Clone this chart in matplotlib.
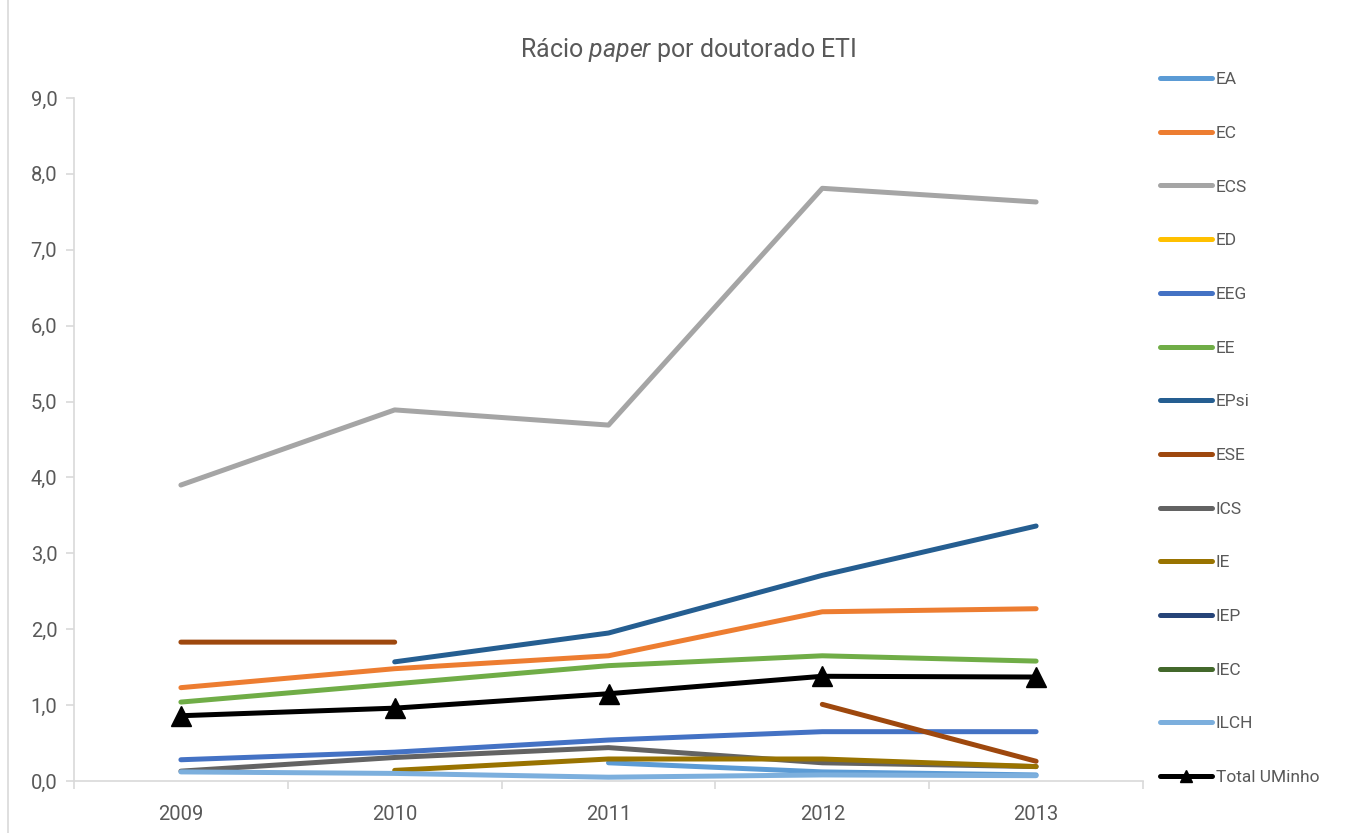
import numpy as np
import matplotlib
matplotlib.use('Agg')
import matplotlib.pyplot as plt
from matplotlib.lines import Line2D

plt.rcParams['font.family'] = ['Roboto', 'DejaVu Sans']
plt.rcParams['mathtext.fontset'] = 'custom'
plt.rcParams['mathtext.it'] = 'Roboto:italic'
plt.rcParams['mathtext.rm'] = 'Roboto'

years = ['2009', '2010', '2011', '2012', '2013']
nan = np.nan

EA = [nan, nan, 0.24, 0.12, 0.08]
EC = [1.23, 1.48, 1.65, 2.23, 2.27]
ECS = [3.90, 4.89, 4.69, 7.81, 7.63]
ED = [nan, nan, nan, nan, nan]
EEG = [0.28, 0.38, 0.54, 0.65, 0.65]
EE = [1.04, 1.28, 1.52, 1.65, 1.58]
EPsi = [nan, 1.57, 1.95, 2.71, 3.36]
ESE = [1.83, 1.83, nan, 1.01, 0.26]
ICS = [0.13, 0.31, 0.44, 0.24, 0.19]
IE = [nan, 0.14, 0.29, 0.29, 0.19]
IEP = [nan, nan, nan, nan, nan]
IEC = [nan, nan, nan, nan, nan]
ILCH = [0.12, 0.10, 0.05, 0.08, 0.07]
total = [0.86, 0.96, 1.15, 1.38, 1.37]

series = [
    ('EA', EA, '#5B9BD5'),
    ('EC', EC, '#ED7D31'),
    ('ECS', ECS, '#A5A5A5'),
    ('ED', ED, '#FFC000'),
    ('EEG', EEG, '#4472C4'),
    ('EE', EE, '#70AD47'),
    ('EPsi', EPsi, '#255E91'),
    ('ESE', ESE, '#9E480E'),
    ('ICS', ICS, '#636363'),
    ('IE', IE, '#997300'),
    ('IEP', IEP, '#264478'),
    ('IEC', IEC, '#43682B'),
    ('ILCH', ILCH, '#7CAFDD'),
]

text_col = '#595959'
axis_col = '#D9D9D9'

fig = plt.figure(figsize=(13.52, 8.33), dpi=100)
ax = fig.add_axes([74 / 1352, 1 - 781 / 833, (1143 - 74) / 1352, (781 - 98) / 833])

x = np.arange(len(years))
handles = []
for name, vals, col in series:
    ln, = ax.plot(x, vals, color=col, lw=3.6, solid_capstyle='round', label=name)
    handles.append(ln)
ax.plot(x, total, color='black', lw=3.6, marker='^', ms=14,
        solid_capstyle='round', zorder=5)
# smaller marker in the legend, like the original
handles.append(Line2D([], [], color='black', lw=3.6, marker='^', ms=8,
                      solid_capstyle='round', label='Total UMinho'))

ax.set_xlim(-0.5, len(years) - 0.5)
ax.set_ylim(0, 9)
ax.set_yticks(np.arange(0, 10, 1))
ax.set_yticklabels([f'{v:.1f}'.replace('.', ',') for v in np.arange(0, 10, 1)])
ax.set_xticks(x)
ax.set_xticklabels(years)
ax.set_xticks(np.arange(-0.5, len(years), 1), minor=True)
ax.tick_params(axis='x', which='major', length=0, pad=17, labelsize=14.5, labelcolor=text_col)
ax.tick_params(axis='x', which='minor', length=6, color=axis_col, width=1.2)
ax.tick_params(axis='y', length=6, color=axis_col, width=1.2, pad=6, labelsize=14.5, labelcolor=text_col)

for side in ['top', 'right']:
    ax.spines[side].set_visible(False)
for side in ['left', 'bottom']:
    ax.spines[side].set_color(axis_col)
    ax.spines[side].set_linewidth(1.2)

fig.text(688 / 1352, 1 - 50 / 833, r'Rácio $\mathit{paper}$ por doutorado ETI',
         ha='center', va='center', fontsize=18, color=text_col)

fig.legend(handles=handles, loc='upper left', bbox_to_anchor=(1160 / 1352, 1 - 72 / 833),
           frameon=False, fontsize=12.5, labelcolor=text_col, handlelength=3.0,
           handletextpad=0.2, labelspacing=2.22, borderaxespad=0, borderpad=0)

fig.add_artist(Line2D([8 / 1352, 8 / 1352], [0, 1], transform=fig.transFigure,
                      color=axis_col, lw=1.2))

fig.savefig('out.png', dpi=100)
